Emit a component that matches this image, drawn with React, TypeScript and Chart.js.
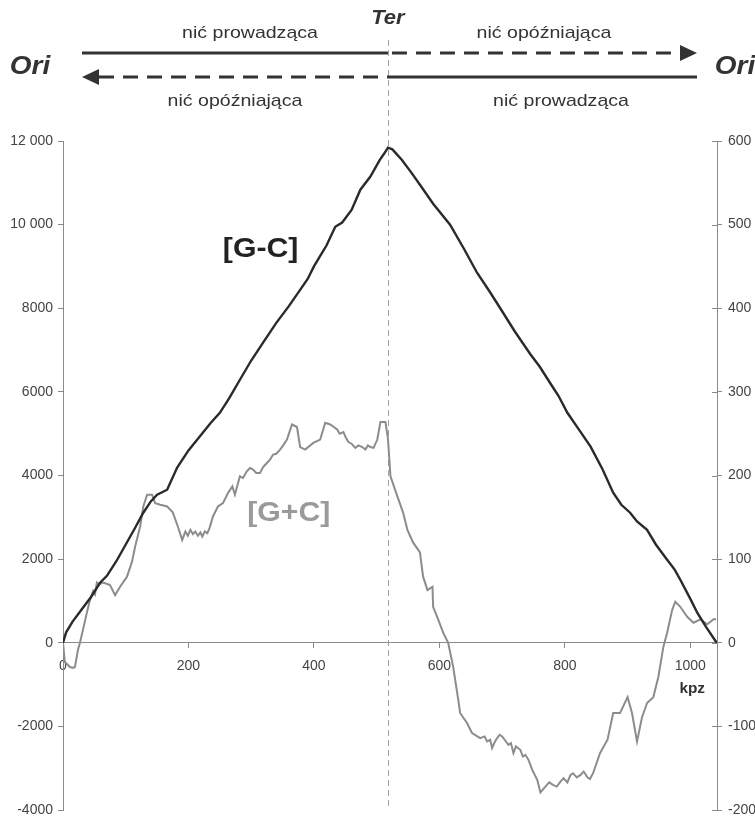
import React, { useEffect, useRef } from "react";
import { Chart, registerables } from "chart.js";

Chart.register(...registerables);

// ---- data ----
const GENOME_KPZ = 1042.5;
const TER_KPZ = 518;

// cumulative [G-C] (left axis)
const DIFF_KPZ = [0, 5, 15, 30, 45, 59, 70, 85, 100, 115, 128, 140, 150, 158, 166, 182, 200, 218, 235, 250, 265, 282, 300, 320, 340, 360, 378, 390, 400, 410, 420, 434, 445, 460, 474, 490, 505, 512, 518, 525, 540, 555, 569, 590, 617, 640, 660, 680, 697, 720, 745, 760, 777, 790, 804, 820, 841, 860, 877, 890, 904, 915, 931, 945, 963, 975, 984, 1000, 1011, 1025, 1042];
const DIFF_VAL = [0, 250, 500, 800, 1100, 1435, 1600, 1950, 2350, 2750, 3110, 3380, 3540, 3600, 3660, 4190, 4600, 4930, 5250, 5500, 5850, 6290, 6750, 7200, 7650, 8050, 8440, 8700, 9000, 9250, 9500, 9950, 10050, 10350, 10835, 11150, 11550, 11700, 11840, 11800, 11550, 11250, 10955, 10500, 10000, 9400, 8850, 8400, 8000, 7450, 6900, 6600, 6200, 5900, 5500, 5150, 4690, 4150, 3590, 3300, 3110, 2900, 2700, 2350, 1985, 1750, 1507, 1050, 718, 380, 0];

// cumulative [G+C] (right axis)
const SUM_KPZ = [
  0, 3, 11, 16, 19, 24, 27, 32, 38, 43,
  48, 51, 54, 58, 64, 75, 83, 91, 102, 110,
  115, 123, 128, 134, 142, 147, 155, 166, 175, 183,
  190, 195, 199, 203, 207, 211, 215, 219, 222, 226,
  230, 234, 239, 247, 255, 263, 270, 274, 282, 287,
  293, 298, 303, 308, 314, 319, 325, 330, 335, 340,
  346, 351, 357, 365, 373, 378, 386, 399, 410, 418,
  426, 437, 441, 447, 451, 455, 460, 466, 471, 477,
  482, 486, 490, 495, 501, 506, 514, 518, 522, 533,
  542, 549, 558, 569, 574, 581, 589, 590, 598, 606,
  614, 622, 630, 633, 644, 652, 665, 672, 676, 681,
  684, 688, 692, 696, 700, 704, 710, 714, 718, 722,
  729, 733, 737, 742, 748, 756, 761, 769, 775, 781,
  787, 793, 798, 804, 809, 813, 819, 825, 830, 836,
  840, 845, 856, 868, 877, 888, 900, 907, 915, 923,
  931, 941, 949, 957, 963, 971, 976, 984, 995, 1005,
  1016, 1027, 1037, 1041,
];
const SUM_VAL = [
  0, -23, -29, -30, -29, -8, 0, 16, 36, 51,
  62, 58, 72, 70, 72, 69, 57, 67, 79, 97,
  115, 139, 163, 177, 177, 167, 165, 163, 156, 139,
  123, 133, 128, 135, 130, 133, 128, 132, 127, 133,
  131, 138, 151, 163, 167, 179, 187, 177, 199, 197,
  205, 209, 207, 203, 203, 210, 215, 219, 225, 226,
  231, 236, 243, 261, 258, 234, 231, 239, 243, 263,
  261, 255, 250, 252, 245, 240, 238, 233, 236, 234,
  231, 236, 234, 233, 243, 264, 264, 244, 199, 175,
  156, 135, 120, 108, 79, 63, 67, 43, 28, 12,
  0, -29, -68, -84, -96, -108, -114, -112, -118, -116,
  -126, -119, -114, -110, -112, -116, -122, -120, -132, -124,
  -128, -136, -134, -140, -152, -164, -179, -172, -167, -170,
  -172, -166, -162, -167, -158, -156, -161, -158, -154, -161,
  -163, -156, -132, -116, -84, -84, -65, -84, -118, -89,
  -72, -65, -41, -5, 12, 39, 49, 43, 31, 24,
  28, 22, 28, 28,
];

const X_STEP = 200;
const LEFT_MIN = -4000;
const LEFT_MAX = 12000;
const LEFT_STEP = 2000;
const RIGHT_MIN = -200;
const RIGHT_MAX = 600;
const RIGHT_STEP = 100;

const LABEL_DIFF = "[G-C]";
const LABEL_SUM = "[G+C]";
const LABEL_X = "kpz";
const LABEL_TER = "Ter";
const LABEL_ORI = "Ori";
const LEADING = "nić prowadząca";
const LAGGING = "nić opóźniająca";

const FONT = "'Liberation Sans', Arial, Helvetica, sans-serif";
const AXIS_COLOR = "#8a8a8a";
const TICK_TEXT = "#444";

function fmtLeft(v: number): string {
  const s = String(Math.abs(v));
  const body = Math.abs(v) >= 10000 ? s.replace(/\B(?=(\d{3})+(?!\d))/g, " ") : s;
  return (v < 0 ? "-" : "") + body;
}

function drawText(
  ctx: CanvasRenderingContext2D,
  text: string,
  x: number,
  y: number,
  font: string,
  color: string,
  sx = 1.15,
  align: CanvasTextAlign = "center"
) {
  ctx.save();
  ctx.translate(x, y);
  ctx.scale(sx, 1);
  ctx.font = font;
  ctx.fillStyle = color;
  ctx.textAlign = align;
  ctx.textBaseline = "middle";
  ctx.fillText(text, 0, 0);
  ctx.restore();
}

const overlayPlugin = {
  id: "overlay",
  beforeDraw(chart: any) {
    const ctx = chart.ctx as CanvasRenderingContext2D;
    ctx.save();
    ctx.fillStyle = "#ffffff";
    ctx.fillRect(0, 0, chart.width, chart.height);
    ctx.restore();
  },
  beforeDatasetsDraw(chart: any) {
    const ctx = chart.ctx as CanvasRenderingContext2D;
    const xs = chart.scales.x;
    const terX = Math.round(xs.getPixelForValue(TER_KPZ)) + 0.5;
    ctx.save();
    ctx.strokeStyle = "#a0a0a0";
    ctx.lineWidth = 1;
    ctx.setLineDash([6, 4]);
    ctx.beginPath();
    ctx.moveTo(terX, 40);
    ctx.lineTo(terX, chart.chartArea.bottom);
    ctx.stroke();
    ctx.restore();
  },
  afterDraw(chart: any) {
    const ctx = chart.ctx as CanvasRenderingContext2D;
    const xs = chart.scales.x;
    const yl = chart.scales.y;
    const yr = chart.scales.y1;
    const area = chart.chartArea;
    const terX = xs.getPixelForValue(TER_KPZ);

    // inner half of right-axis ticks (cross ticks)
    ctx.save();
    ctx.strokeStyle = AXIS_COLOR;
    ctx.lineWidth = 1;
    yr.ticks.forEach((t: any) => {
      const py = Math.round(yr.getPixelForValue(t.value)) + 0.5;
      ctx.beginPath();
      ctx.moveTo(area.right - 5, py);
      ctx.lineTo(area.right, py);
      ctx.stroke();
    });
    ctx.restore();

    // header arrows
    const left = 82;
    const right = 697;
    const yUp = 53;
    const yDown = 77;
    ctx.save();
    ctx.strokeStyle = "#333";
    ctx.fillStyle = "#333";
    ctx.lineWidth = 3;
    ctx.beginPath();
    ctx.moveTo(left, yUp);
    ctx.lineTo(terX, yUp);
    ctx.stroke();
    ctx.setLineDash([15, 9]);
    ctx.beginPath();
    ctx.moveTo(terX + 4, yUp);
    ctx.lineTo(right - 14, yUp);
    ctx.stroke();
    ctx.setLineDash([]);
    ctx.beginPath();
    ctx.moveTo(right, yUp);
    ctx.lineTo(right - 17, yUp - 8);
    ctx.lineTo(right - 17, yUp + 8);
    ctx.closePath();
    ctx.fill();
    ctx.beginPath();
    ctx.moveTo(left, yDown);
    ctx.lineTo(left + 17, yDown - 8);
    ctx.lineTo(left + 17, yDown + 8);
    ctx.closePath();
    ctx.fill();
    ctx.setLineDash([15, 9]);
    ctx.beginPath();
    ctx.moveTo(left + 17, yDown);
    ctx.lineTo(terX, yDown);
    ctx.stroke();
    ctx.setLineDash([]);
    ctx.beginPath();
    ctx.moveTo(terX, yDown);
    ctx.lineTo(right, yDown);
    ctx.stroke();
    ctx.restore();

    // header text
    drawText(ctx, LABEL_TER, terX, 18, `italic bold 20px ${FONT}`, "#333", 1.1);
    drawText(ctx, LABEL_ORI, 30, 67, `italic bold 25px ${FONT}`, "#333", 1.12);
    drawText(ctx, LABEL_ORI, 735, 67, `italic bold 25px ${FONT}`, "#333", 1.12);
    drawText(ctx, LEADING, 250, 33, `17px ${FONT}`, "#333", 1.15);
    drawText(ctx, LAGGING, 544, 33, `17px ${FONT}`, "#333", 1.15);
    drawText(ctx, LAGGING, 235, 101, `17px ${FONT}`, "#333", 1.15);
    drawText(ctx, LEADING, 561, 101, `17px ${FONT}`, "#333", 1.15);

    // series labels
    drawText(ctx, LABEL_DIFF, xs.getPixelForValue(315), yl.getPixelForValue(9400), `bold 27px ${FONT}`, "#222", 1.12);
    drawText(ctx, LABEL_SUM, xs.getPixelForValue(360), yr.getPixelForValue(155), `bold 27px ${FONT}`, "#9a9a9a", 1.12);
    drawText(ctx, LABEL_X, xs.getPixelForValue(1003), yr.getPixelForValue(-55), `bold 14px ${FONT}`, "#333", 1.1);
  },
};

export default function App() {
  const ref = useRef<HTMLCanvasElement | null>(null);

  useEffect(() => {
    if (!ref.current) return;
    const diffData = DIFF_KPZ.map((k, i) => ({ x: k, y: DIFF_VAL[i] }));
    const sumData = SUM_KPZ.map((k, i) => ({ x: k, y: SUM_VAL[i] }));

    const tickFont = { family: FONT, size: 14 };

    const chart = new Chart(ref.current, {
      type: "line",
      data: {
        datasets: [
          {
            label: LABEL_DIFF,
            data: diffData,
            yAxisID: "y",
            borderColor: "#2a2a2a",
            borderWidth: 2.4,
            pointRadius: 0,
            tension: 0,
            fill: false,
          },
          {
            label: LABEL_SUM,
            data: sumData,
            yAxisID: "y1",
            borderColor: "#8c8c8c",
            borderWidth: 2,
            pointRadius: 0,
            tension: 0,
            fill: false,
          },
        ],
      },
      options: {
        responsive: false,
        animation: false,
        events: [],
        layout: { padding: { top: 141, bottom: 9, left: 0, right: 0 } },
        plugins: {
          legend: { display: false },
          tooltip: { enabled: false },
          title: { display: false },
        },
        scales: {
          x: {
            type: "linear",
            min: 0,
            max: GENOME_KPZ,
            position: { y: 0 } as any,
            ticks: {
              stepSize: X_STEP,
              includeBounds: false,
              autoSkip: false,
              maxRotation: 0,
              color: TICK_TEXT,
              font: tickFont,
              padding: 10,
              callback: (v: any) => String(Math.round(Number(v))),
            },
            grid: {
              display: true,
              drawOnChartArea: false,
              drawTicks: true,
              tickLength: 5,
              color: AXIS_COLOR,
            },
            border: { display: true, color: AXIS_COLOR, width: 1 },
            afterFit: (s: any) => {
              s.paddingLeft = 0;
              s.paddingRight = 0;
              s.paddingTop = 0;
              s.paddingBottom = 0;
            },
          },
          y: {
            type: "linear",
            position: "left",
            min: LEFT_MIN,
            max: LEFT_MAX,
            ticks: {
              stepSize: LEFT_STEP,
              color: TICK_TEXT,
              font: tickFont,
              padding: 5,
              callback: (v: any) => fmtLeft(Number(v)),
            },
            grid: {
              display: true,
              drawOnChartArea: false,
              drawTicks: true,
              tickLength: 5,
              color: AXIS_COLOR,
            },
            border: { display: true, color: AXIS_COLOR, width: 1 },
            afterFit: (s: any) => {
              s.width = 63;
              s.paddingTop = 0;
              s.paddingBottom = 0;
            },
          },
          y1: {
            type: "linear",
            position: "right",
            min: RIGHT_MIN,
            max: RIGHT_MAX,
            ticks: {
              stepSize: RIGHT_STEP,
              color: TICK_TEXT,
              font: tickFont,
              padding: 6,
              callback: (v: any) => String(Math.round(Number(v))),
            },
            grid: {
              display: true,
              drawOnChartArea: false,
              drawTicks: true,
              tickLength: 5,
              color: AXIS_COLOR,
            },
            border: { display: true, color: AXIS_COLOR, width: 1 },
            afterFit: (s: any) => {
              s.width = 38;
              s.paddingTop = 0;
              s.paddingBottom = 0;
            },
          },
        },
      } as any,
      plugins: [overlayPlugin],
    });
    return () => chart.destroy();
  }, []);

  return (
    <div style={{ position: "absolute", left: 0, top: 0, width: 755, height: 819, background: "#fff" }}>
      <canvas ref={ref} width={755} height={819} style={{ display: "block" }} />
    </div>
  );
}
